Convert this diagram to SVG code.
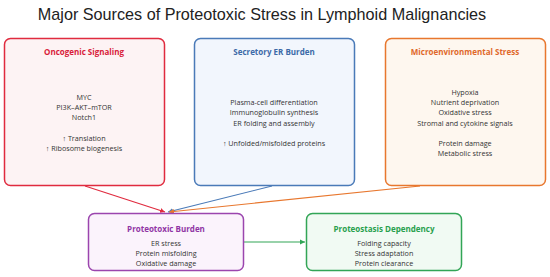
<svg xmlns="http://www.w3.org/2000/svg" width="550" height="277" viewBox="0 0 550 277">
<style>
.title{font-family:"Liberation Sans",Arial,sans-serif;font-size:16.2px;fill:#222;text-anchor:middle}
.h{font-family:"Open Sans","Noto Sans",sans-serif;font-size:8px;font-weight:bold;text-anchor:middle}
.t{font-family:"Open Sans","Noto Sans",sans-serif;font-size:7.2px;fill:#333;text-anchor:middle}
.box{stroke-width:1.5}
.c{fill:none;stroke-width:1.2}
</style>
<defs>
<marker id="aR" markerWidth="6" markerHeight="6" refX="5" refY="3" orient="auto" markerUnits="userSpaceOnUse"><path d="M0,0.5 L5,3 L0,5.5 Z" fill="#e02b3f"/></marker>
<marker id="aB" markerWidth="6" markerHeight="6" refX="5" refY="3" orient="auto" markerUnits="userSpaceOnUse"><path d="M0,0.5 L5,3 L0,5.5 Z" fill="#4a7ab8"/></marker>
<marker id="aO" markerWidth="6" markerHeight="6" refX="5" refY="3" orient="auto" markerUnits="userSpaceOnUse"><path d="M0,0.5 L5,3 L0,5.5 Z" fill="#e8772e"/></marker>
<marker id="aG" markerWidth="6" markerHeight="6" refX="5" refY="3" orient="auto" markerUnits="userSpaceOnUse"><path d="M0,0.5 L5,3 L0,5.5 Z" fill="#32a556"/></marker>
</defs>
<rect width="550" height="277" fill="#fff"/>
<text class="title" x="262" y="20">Major Sources of Proteotoxic Stress in Lymphoid Malignancies</text>
<g id="connectors">
<line class="c" x1="85" y1="186" x2="165" y2="212" stroke="#e02b3f" marker-end="url(#aR)"/>
<line class="c" x1="272" y1="186" x2="168" y2="212" stroke="#4a7ab8" marker-end="url(#aB)"/>
<line class="c" x1="420" y1="186" x2="169" y2="212" stroke="#e8772e" marker-end="url(#aO)"/>
<line class="c" x1="244" y1="242" x2="305" y2="242" stroke="#32a556" marker-end="url(#aG)"/>
</g>
<g id="oncogenic">
<rect class="box" x="4.5" y="38.5" width="160" height="147" rx="6" fill="#fdf3f4" stroke="#e02b3f"/>
<text class="h" x="84" y="55" fill="#d8203a">Oncogenic Signaling</text>
<text class="t" x="84" y="100">MYC</text>
<text class="t" x="84" y="110">PI3K–AKT–mTOR</text>
<text class="t" x="84" y="120">Notch1</text>
<text class="t" x="84" y="141">↑ Translation</text>
<text class="t" x="84" y="151">↑ Ribosome biogenesis</text>
</g>
<g id="secretory">
<rect class="box" x="194.5" y="38.5" width="160" height="147" rx="6" fill="#f2f6fd" stroke="#4a7ab8"/>
<text class="h" x="274" y="55" fill="#3c6aa8">Secretory ER Burden</text>
<text class="t" x="274" y="105">Plasma-cell differentiation</text>
<text class="t" x="274" y="115">Immunoglobulin synthesis</text>
<text class="t" x="274" y="126">ER folding and assembly</text>
<text class="t" x="274" y="146">↑ Unfolded/misfolded proteins</text>
</g>
<g id="micro">
<rect class="box" x="385.5" y="38.5" width="160" height="147" rx="6" fill="#fef7ef" stroke="#e8772e"/>
<text class="h" x="465" y="55" fill="#e0682a">Microenvironmental Stress</text>
<text class="t" x="465" y="95">Hypoxia</text>
<text class="t" x="465" y="105">Nutrient deprivation</text>
<text class="t" x="465" y="115">Oxidative stress</text>
<text class="t" x="465" y="126">Stromal and cytokine signals</text>
<text class="t" x="465" y="146">Protein damage</text>
<text class="t" x="465" y="156">Metabolic stress</text>
</g>
<g id="proteotoxic">
<rect class="box" x="88.5" y="213.5" width="155" height="57" rx="6" fill="#fbf3fc" stroke="#9b45ae"/>
<text class="h" x="166" y="232" fill="#9035a5">Proteotoxic Burden</text>
<text class="t" x="166" y="245.5">ER stress</text>
<text class="t" x="166" y="255.5">Protein misfolding</text>
<text class="t" x="166" y="265.5">Oxidative damage</text>
</g>
<g id="dependency">
<rect class="box" x="306.5" y="213.5" width="155" height="57" rx="6" fill="#f1faf3" stroke="#32a556"/>
<text class="h" x="384" y="232" fill="#28a04d">Proteostasis Dependency</text>
<text class="t" x="384" y="245.5">Folding capacity</text>
<text class="t" x="384" y="255.5">Stress adaptation</text>
<text class="t" x="384" y="265.5">Protein clearance</text>
</g>
</svg>
